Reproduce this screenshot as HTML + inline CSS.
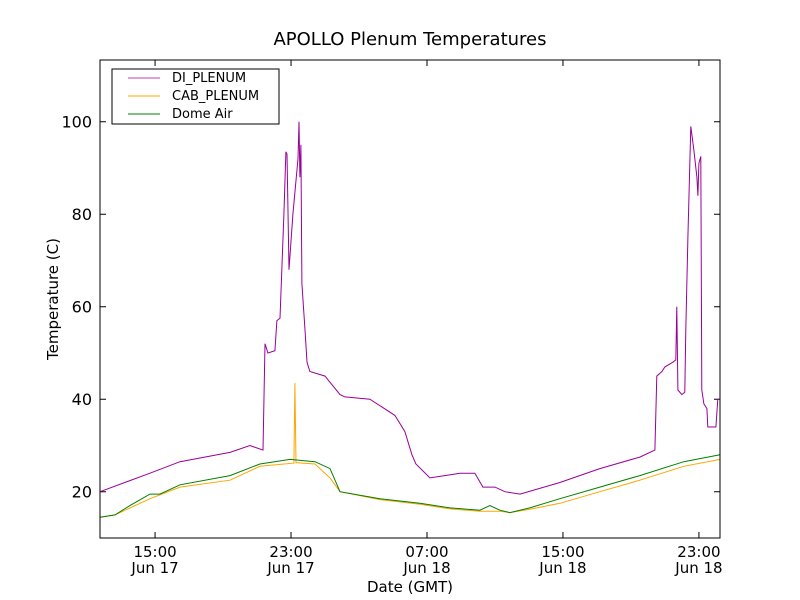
<!DOCTYPE html>
<html><head><meta charset="utf-8"><style>
html,body{margin:0;padding:0;background:#fff;}
svg{display:block;font-family:"DejaVu Sans","Liberation Sans",sans-serif;}
</style></head><body>
<svg id="chart" width="800" height="600">
<rect width="800" height="600" fill="#fff"/>
<text x="410" y="45" font-size="18" text-anchor="middle">APOLLO Plenum Temperatures</text>
<text x="410" y="592" font-size="15" text-anchor="middle">Date (GMT)</text>
<text x="58" y="299" font-size="15" text-anchor="middle" transform="rotate(-90 58 299)">Temperature (C)</text>
<g id="ticks"></g>
<g id="series"></g>
<rect x="100" y="60" width="620" height="478" fill="none" stroke="#000" stroke-width="1"/>
<g>
<rect x="112" y="69" width="167" height="55" fill="#fff" stroke="#000"/>
<line x1="128" y1="78" x2="160" y2="78" stroke="#bf40bf"/>
<text x="172" y="82" font-size="13">DI_PLENUM</text>
<line x1="128" y1="96" x2="160" y2="96" stroke="#ffa500"/>
<text x="172" y="100" font-size="13">CAB_PLENUM</text>
<line x1="128" y1="114" x2="160" y2="114" stroke="#008000"/>
<text x="172" y="118" font-size="13">Dome Air</text>
</g>
</svg>
<script>
const yTicks=[20,40,60,80,100];
const xTickHours=[15,23,31,39,47];
const xTickTimes=["15:00","23:00","07:00","15:00","23:00"];
const xTickDates=["Jun 17","Jun 17","Jun 18","Jun 18","Jun 18"];
const diTimes=[11.76,14.70,16.47,19.41,20.58,21.35,21.47,21.64,22.05,22.17,22.35,22.58,22.70,22.76,22.88,23.11,23.41,23.47,23.52,23.58,23.64,23.82,23.94,24.11,25.0,25.88,26.17,27.64,29.11,29.7,30.11,30.35,31.17,32.05,32.94,33.82,34.29,35.0,35.58,36.47,38.82,41.17,43.52,44.41,44.52,44.82,45.0,45.47,45.64,45.7,45.76,46.0,46.17,46.23,46.35,46.52,46.7,46.88,46.94,47.0,47.11,47.17,47.29,47.47,47.52,48.0,48.11,48.24];
const diValues=[20,24,26.5,28.5,30,29,52,50,50.5,57,57.5,80,93.5,93,68,80,92,100,88,95,65,55,48,46,45,41,40.5,40,36.5,33,28,26,23,23.5,24,24,21,21,20,19.5,22,25,27.5,29,45,46,47,48,48.5,60,42,41,41.5,55,75,99,94,88,84,91,92.5,42,39,38,34,34,40,40];
const domeTimes=[11.76,12.64,13.52,14.70,15.29,16.47,19.41,21.17,22.94,24.41,25.29,25.88,28.23,30.58,32.35,34.11,34.7,35.29,35.88,37.05,38.82,41.17,43.52,46.11,48.24];
const domeValues=[14.5,15,17,19.5,19.5,21.5,23.5,26,27,26.5,25,20,18.5,17.5,16.5,16,17,16,15.5,16.5,18.5,21,23.5,26.5,28];
const cabTimes=[11.76,12.64,14.70,16.47,19.41,21.17,23.17,23.23,23.29,24.41,25.29,25.88,28.23,30.58,32.35,34.11,35.29,35.88,37.05,38.82,41.17,43.52,46.11,48.24];
const cabValues=[14.5,15,18.5,21,22.5,25.5,26.2,43.5,26.3,26,23,20,18.3,17.3,16.3,15.8,15.8,15.5,16.2,17.5,20,22.5,25.5,27];
const X0=100,X1=720,Y0=538,Y1=60,XMIN=11.76,XMAX=48.24,YMIN=10,YMAX=113.35;
const sx=t=>X0+(t-XMIN)/(XMAX-XMIN)*(X1-X0);
const sy=v=>Y0-(v-YMIN)/(YMAX-YMIN)*(Y0-Y1);
const NS="http://www.w3.org/2000/svg";
const tg=document.getElementById('ticks'),sg=document.getElementById('series');
function mk(tag,attrs,parent){const e=document.createElementNS(NS,tag);for(const k in attrs)e.setAttribute(k,attrs[k]);parent.appendChild(e);return e;}
yTicks.forEach(v=>{const y=sy(v);
 let l=mk('path',{d:`M${X0} ${y}h6M${X1} ${y}h-6`,stroke:'#000',fill:'none'},tg);
 
 
 let t=mk('text',{x:X0-8,y:y+6,'font-size':16,'text-anchor':'end'},tg);t.textContent=v;
 
 
});
xTickHours.forEach((h,i)=>{const x=sx(h);
 let l=mk('path',{d:`M${x} ${Y0}v-6M${x} ${Y1}v6`,stroke:'#000',fill:'none'},tg);
 
 
 let t=mk('text',{x:x,y:557,'font-size':15,'text-anchor':'middle'},tg);t.textContent=xTickTimes[i];
 
 
 let d=mk('text',{x:x,y:573,'font-size':15,'text-anchor':'middle'},tg);d.textContent=xTickDates[i];
 
 
});
function line(ts,vs,color,name){
 const p=mk('polyline',{points:ts.map((t,i)=>sx(t).toFixed(1)+','+sy(vs[i]).toFixed(1)).join(' '),fill:'none',stroke:color,'stroke-width':1},sg);
 
 
}
line(cabTimes,cabValues,'#ffa500','cab-plenum-line');
line(domeTimes,domeValues,'#008000','dome-air-line');
line(diTimes,diValues,'#990099','di-plenum-line');
</script>
</body></html>
